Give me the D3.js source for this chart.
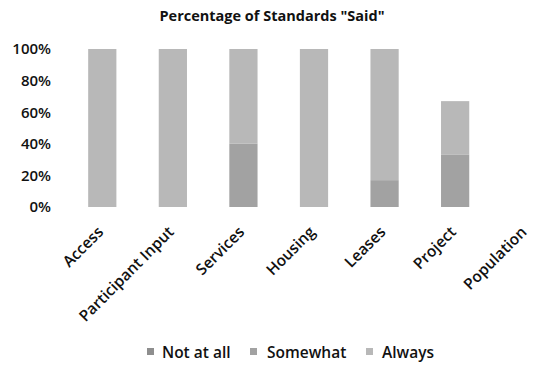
<!DOCTYPE html>
<html><head><meta charset="utf-8">
<script src="https://cdn.jsdelivr.net/npm/d3@7"></script>
<style>body{margin:0;background:#fff}svg{display:block}</style>
</head><body>
<svg id="c" width="533" height="365"></svg>
<script>
const categories = ["Access","Participant Input","Services","Housing","Leases","Project","Population"];
const notAtAll = [0,0,0,0,0,0,0];
const somewhat = [0,0,40,0,17,33,0];
const always   = [100,100,60,100,83,34,0];
const seriesNames = ["Not at all","Somewhat","Always"];
const yTicks = [0,20,40,60,80,100];
const colors = ["#8e8e8e","#a2a2a2","#b8b8b8"];

const svg = d3.select("#c");
const font = "'Open Sans', sans-serif";
const x = d3.scaleBand().domain(categories).range([67,561]).paddingInner(0.6).paddingOuter(0.3);
const y = d3.scaleLinear().domain([0,100]).range([207,49]);

const rows = categories.map((c,i)=>({cat:c,"Not at all":notAtAll[i],"Somewhat":somewhat[i],"Always":always[i]}));
const stack = d3.stack().keys(seriesNames)(rows);

svg.append("text").attr("x",272).attr("y",21).attr("text-anchor","middle")
  .attr("font-family",font).attr("font-weight",700).attr("font-size",14.5).attr("fill","#111")
  .text('Percentage of Standards "Said"');

stack.forEach((s,k)=>{
  svg.append("g").selectAll("rect").data(s).join("rect")
    .attr("x",d=>x(d.data.cat)).attr("width",x.bandwidth())
    .attr("y",d=>y(d[1])).attr("height",d=>y(d[0])-y(d[1]))
    .attr("fill",colors[k]);
});

const ya = svg.append("g").attr("transform","translate(51,0)")
  .call(d3.axisLeft(y).tickValues(yTicks).tickFormat(d=>d+"%").tickSize(0).tickPadding(0));
ya.select(".domain").remove();
ya.selectAll("text").attr("font-family",font).attr("font-size",15).attr("font-weight",600).attr("fill","#111");

const xa = svg.append("g").attr("transform","translate(0,207)")
  .call(d3.axisBottom(x).tickSize(0).tickPadding(0));
xa.select(".domain").remove();
xa.selectAll("text").attr("font-family",font).attr("font-size",15.5).attr("font-weight",600).attr("fill","#111")
  .attr("text-anchor","end").attr("dy",0)
  .attr("transform","translate(2,26) rotate(-45)");

const swX = [147,250,366];
const txX = [162,267,382];
const lg = svg.append("g");
seriesNames.forEach((n,i)=>{
  lg.append("rect").attr("x",swX[i]).attr("y",348).attr("width",7).attr("height",7).attr("fill",colors[i]);
  lg.append("text").attr("x",txX[i]).attr("y",357.5).attr("font-family",font).attr("font-size",15.5)
    .attr("font-weight",600).attr("fill","#111").text(n);
});
</script>
</body></html>
